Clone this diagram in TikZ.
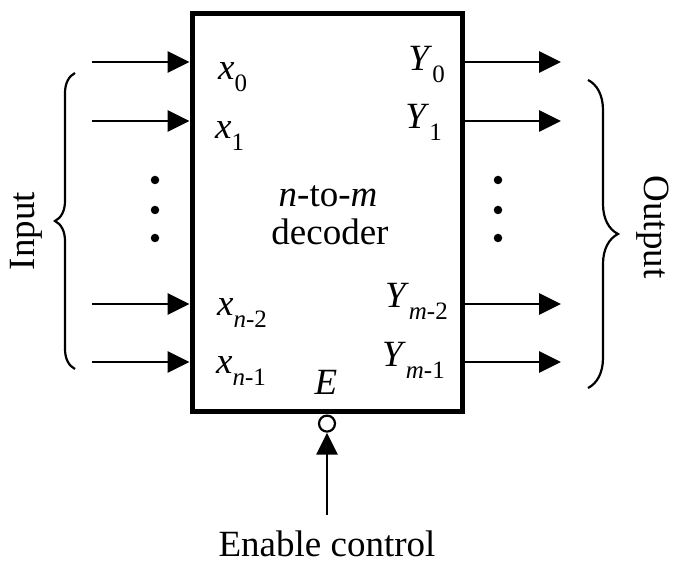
\documentclass[tikz,border=0pt]{standalone}
\usepackage{fontspec}
\setmainfont{Liberation Serif}
\usepackage{tikz}
\usetikzlibrary{positioning,arrows.meta,decorations.pathreplacing}

\newcommand{\lblfont}{\fontsize{37}{39}\selectfont}
\newcommand{\lsub}[2]{\textit{#1}\raisebox{-12pt}{\fontsize{25}{25}\selectfont #2}}

\begin{document}
\begin{tikzpicture}[x=1pt, y=1pt,
  block/.style = {draw, line width=5pt, minimum width=270pt,
                  minimum height=398pt, inner sep=0pt},
  arr/.style   = {-{Triangle[length=22pt,width=21pt]}, line width=2.8pt},
  bub/.style   = {draw, circle, line width=2.2pt, minimum size=16pt, inner sep=0pt},
  lbl/.style   = {font=\lblfont, inner sep=0pt},
  brc/.style   = {decorate, line width=2.2pt},
  dotnode/.style = {circle, fill, minimum size=8.5pt, inner sep=0pt}
]
  \useasboundingbox (0,0) rectangle (673,565);

  \node[block] (dec) at (327,352) {};

  % inputs and outputs
  \foreach \i/\y in {0/503, 1/444, 2/261, 3/203} {
    \coordinate (in\i) at (92,\y);
    \coordinate (out\i) at (561,\y);
    \draw[arr] (in\i) -- (dec.west |- in\i);
    \draw[arr] (dec.east |- out\i) -- (out\i);
  }

  \node[lbl, anchor=base west] (x0) at (218,485) {\lsub{x}{0}};
  \node[lbl, anchor=base west] (x1) at (215,426) {\lsub{x}{1}};
  \node[lbl, anchor=base west] (x2) at (217,249) {\lsub{x}{\textit{n}-2}};
  \node[lbl, anchor=base west] (x3) at (216,191) {\lsub{x}{\textit{n}-1}};

  \node[lbl, anchor=base east] (y0) at (445,494) {\lsub{Y}{0}};
  \node[lbl, anchor=base east] (y1) at (442,436) {\lsub{Y}{1}};
  \node[lbl, anchor=base east] (y2) at (448,257) {\lsub{Y}{\textit{m}-2}};
  \node[lbl, anchor=base east] (y3) at (445,198) {\lsub{Y}{\textit{m}-1}};

  \node[lbl, anchor=base] (title) at (328,358) {\textit{n}-to-\textit{m}};
  \node[lbl, anchor=base] (name) at (330,320) {decoder};

  % vertical dots
  \foreach \y [count=\k] in {385, 355, 327} {
    \node[dotnode] (ld\k) at (155,\y) {};
    \node[dotnode] (rd\k) at (498,\y) {};
  }

  % braces
  \draw[brc, decoration={brace, amplitude=20pt}] (75,196) -- (75,492);
  \draw[brc, decoration={brace, amplitude=30pt}] (588,485) -- (588,177);
  \node[lbl, rotate=90] (inp) at (26,334) {Input};
  \node[lbl, rotate=-90] (outp) at (653,338) {Output};

  % enable
  \node[bub, anchor=north] (bubble) at (dec.south) {};
  \node[lbl, anchor=base] (en) at (326,170) {\textit{E}};
  \coordinate (entail) at (327,50);
  \draw[arr] (entail) -- (bubble.south);
  \node[lbl, anchor=base] (ctrl) at (327,8) {Enable control};
\end{tikzpicture}
\end{document}
